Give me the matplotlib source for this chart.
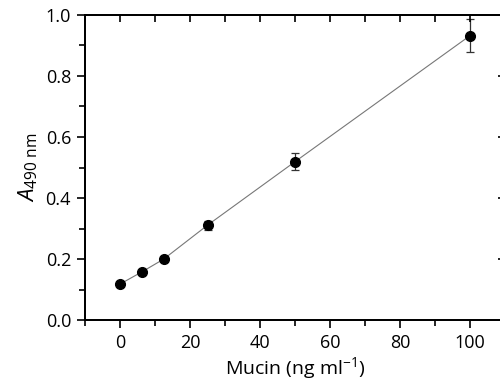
import matplotlib
matplotlib.use("Agg")
import matplotlib.pyplot as plt
from matplotlib.ticker import MultipleLocator, FormatStrFormatter, NullFormatter

plt.rcParams['font.family'] = ['Open Sans', 'DejaVu Sans']
plt.rcParams['mathtext.fontset'] = 'custom'
plt.rcParams['mathtext.rm'] = 'Open Sans'
plt.rcParams['mathtext.it'] = 'Open Sans:italic'

mucin = [0, 6.25, 12.5, 25, 50, 100]
absorb = [0.118, 0.158, 0.200, 0.311, 0.519, 0.932]
err = [0.0, 0.0, 0.0, 0.015, 0.028, 0.055]

fig = plt.figure(figsize=(5.0, 3.82), dpi=100)
ax = fig.add_axes([0.17, 0.162, 0.84, 0.799])

ax.plot(mucin, absorb, color='#777777', lw=0.8, zorder=1)
ax.errorbar(mucin, absorb, yerr=err, fmt='o', color='black', ms=7,
            ecolor='#333333', elinewidth=0.9, capsize=3, capthick=0.9,
            zorder=3, clip_on=False)

ax.set_xlim(-10, 110)
ax.set_ylim(0, 1.0)
ax.xaxis.set_major_locator(MultipleLocator(20))
ax.xaxis.set_minor_locator(MultipleLocator(10))
ax.yaxis.set_major_locator(MultipleLocator(0.2))
ax.yaxis.set_minor_locator(MultipleLocator(0.1))
ax.yaxis.set_major_formatter(FormatStrFormatter('%.1f'))

for s in ax.spines.values():
    s.set_linewidth(1.2)

ax.tick_params(which='major', direction='out', length=6, width=1.2,
               labelsize=13, top=False, right=False, pad=4)
ax.tick_params(which='minor', direction='out', length=4, width=1.2,
               top=False, right=False)

# top ticks pointing inward
tx = ax.twiny()
tx.set_xlim(ax.get_xlim())
tx.xaxis.set_major_locator(MultipleLocator(10))
tx.xaxis.set_major_formatter(NullFormatter())
tx.tick_params(axis='x', direction='in', length=5, width=1.2,
               top=True, bottom=False)

# right ticks pointing inward
ty = ax.twinx()
ty.set_ylim(ax.get_ylim())
ty.yaxis.set_major_locator(MultipleLocator(0.2))
ty.yaxis.set_major_formatter(NullFormatter())
ty.tick_params(axis='y', direction='in', length=5, width=1.2,
               right=True, left=False)
for a in (tx, ty):
    for s in a.spines.values():
        s.set_linewidth(1.2)

ax.set_xlabel(r'Mucin (ng ml$^{\mathrm{-1}}$)', fontsize=14, labelpad=2)
ax.set_ylabel(r'$\mathit{A}_{\mathrm{490\ nm}}$', fontsize=16, labelpad=4)

fig.savefig('out.png', dpi=100)
